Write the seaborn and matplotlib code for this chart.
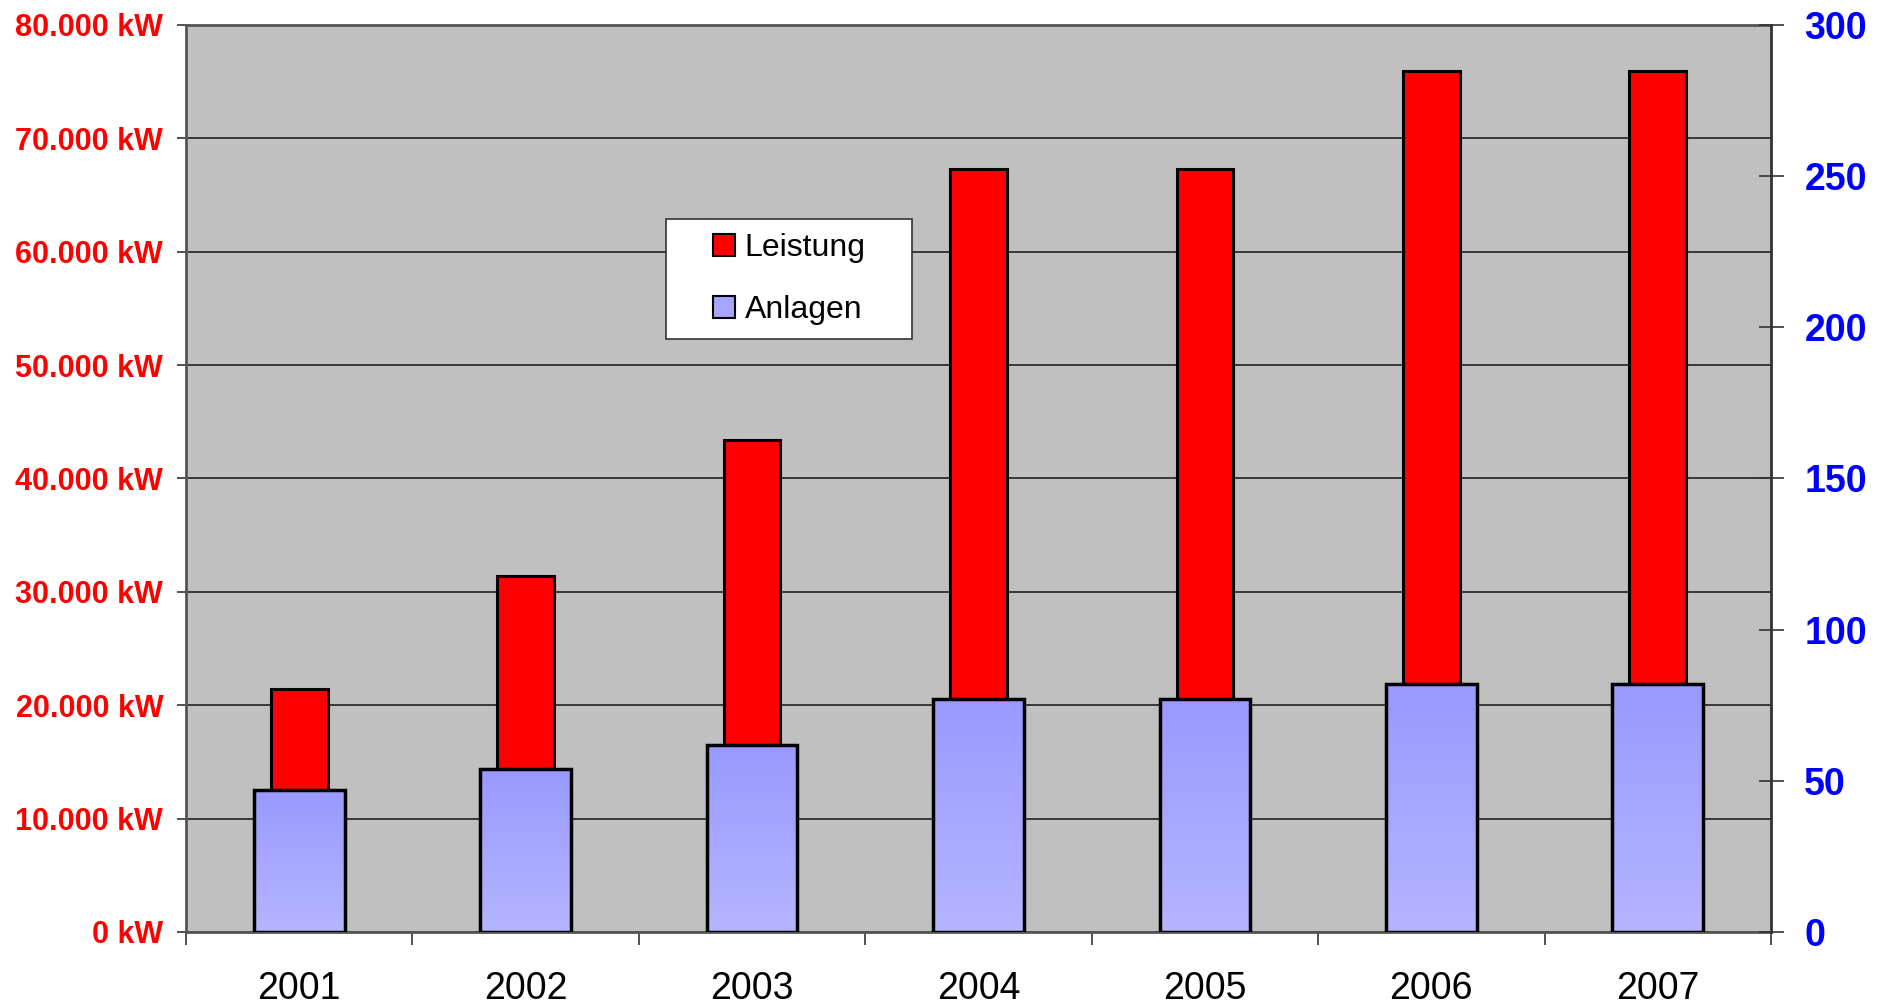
import matplotlib
matplotlib.use("Agg")
import matplotlib.pyplot as plt
import numpy as np
import seaborn as sns
from matplotlib.patches import Patch, Rectangle
from matplotlib.ticker import FuncFormatter, FixedLocator

# Leistung (kW, left axis) and Anlagen (count, right axis) per year
years = ["2001", "2002", "2003", "2004", "2005", "2006", "2007"]
leistung = [21400, 31400, 43400, 67300, 67300, 75900, 75900]
anlagen = [47, 54, 62, 77, 77, 82, 82]

sns.set_style("white")
plt.rcParams['font.family'] = ['Liberation Sans', 'DejaVu Sans']
plt.rcParams['text.color'] = 'black'

fig = plt.figure(figsize=(18.85, 10.07), dpi=100)
ax = fig.add_axes([0.0987, 0.0745, 0.8408, 0.9007])
ax.set_facecolor("#C0C0C0")

sns.barplot(x=years, y=leistung, color="red", width=0.25, saturation=1,
            edgecolor="black", linewidth=2.2, ax=ax, zorder=2)
ax.set_ylim(0, 80000)
ax.set_xlim(-0.5, len(years) - 0.5)
ax.set_yticks(np.arange(0, 80001, 10000))
ax.yaxis.set_major_formatter(FuncFormatter(lambda v, p: f"{int(v):,} kW".replace(",", ".")))
ax.grid(axis="y", color="#222222", linewidth=1.2, zorder=0)
ax.set_axisbelow(True)
ax.tick_params(axis="y", colors="#333333", length=6.5, width=1.2, labelsize=22,
               labelcolor="red", pad=10, left=True)
for lab in ax.get_yticklabels():
    lab.set_fontweight("bold")

# x ticks between categories, labels at centers
ax.xaxis.set_major_locator(FixedLocator(np.arange(-0.5, len(years), 1.0)))
ax.xaxis.set_major_formatter(FuncFormatter(lambda v, p: ""))
ax.set_xticks(np.arange(len(years)), labels=years, minor=True)
ax.tick_params(axis="x", which="major", length=9, width=1.2, colors="#333333", bottom=True)
ax.tick_params(axis="x", which="minor", length=0, labelsize=27, labelcolor="black", pad=28)
ax.set_xlabel("")
ax.set_ylabel("")

for side in ["left", "bottom", "top"]:
    ax.spines[side].set_color("#555555")
    ax.spines[side].set_linewidth(2)
ax.spines["right"].set_visible(False)

ax2 = ax.twinx()
sns.barplot(x=years, y=anlagen, color="#A6A6FF", width=0.4, saturation=1,
            edgecolor="black", linewidth=2.5, ax=ax2, zorder=3)
ax2.set_yticks(np.arange(0, 301, 50))
ax2.tick_params(axis="y", direction="inout", length=18, width=1.2, colors="#333333",
                labelsize=27, labelcolor="#0000FF", pad=15, right=True)
for lab in ax2.get_yticklabels():
    lab.set_fontweight("bold")
ax2.set_ylabel("")
for side in ["left", "bottom", "top"]:
    ax2.spines[side].set_visible(False)
ax2.spines["right"].set_color("#333333")
ax2.spines["right"].set_linewidth(2)

# vertical gradient inside the blue bars
grad = np.linspace(0, 1, 256).reshape(-1, 1)
top = np.array([153, 153, 255]) / 255
bot = np.array([181, 181, 255]) / 255
img = top[None, None, :] * (1 - grad[:, :, None]) + bot[None, None, :] * grad[:, :, None]
for p in list(ax2.patches):
    x0, y0 = p.get_x(), p.get_y()
    w, h = p.get_width(), p.get_height()
    im = ax2.imshow(img, extent=[x0, x0 + w, y0, y0 + h], origin="upper",
                    aspect="auto", zorder=2.9)
    im.set_clip_path(p)
    p.set_facecolor("none")
ax2.set_ylim(0, 300)
ax2.set_xlim(-0.5, len(years) - 0.5)

# legend box
box = Rectangle((0.303, 0.654), 0.155, 0.132, transform=ax2.transAxes,
                facecolor="white", edgecolor="#333333", linewidth=1.2, zorder=9)
ax2.add_patch(box)
handles = [Patch(facecolor="red", edgecolor="black", linewidth=1.5, label="Leistung"),
           Patch(facecolor="#A6A6FF", edgecolor="black", linewidth=1.5, label="Anlagen")]
leg = ax2.legend(handles=handles, loc="center", bbox_to_anchor=(0.303, 0.654, 0.155, 0.132),
                 fontsize=23, frameon=False, handlelength=0.7, handleheight=0.7,
                 handletextpad=0.3, labelspacing=1.0, borderpad=0, borderaxespad=0,
                 labelcolor="black")
leg.set_zorder(10)

fig.savefig("out.png", dpi=100)
